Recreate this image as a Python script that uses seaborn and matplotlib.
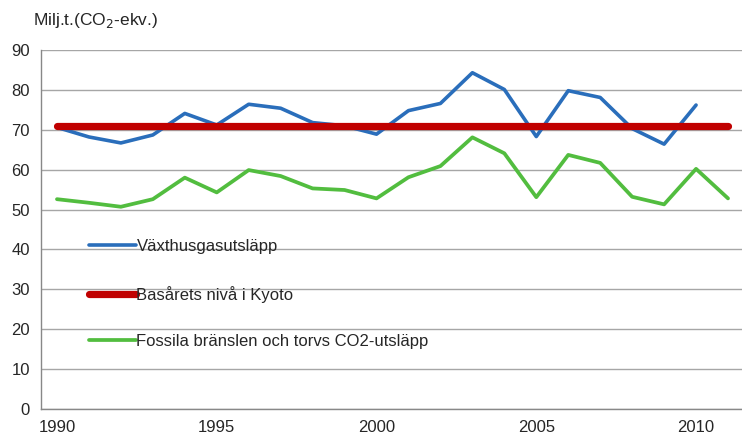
import numpy as np
import pandas as pd
import seaborn as sns
from matplotlib import pyplot as plt

# Data
years = list(range(1990, 2012))
vaxthus = [70.6, 68.2, 66.7, 68.7, 74.1, 71.2, 76.4, 75.4, 71.8, 71.0, 68.9,
           74.8, 76.6, 84.3, 80.1, 68.3, 79.8, 78.1, 70.3, 66.4, 76.2, np.nan]
kyoto = [71.0] * 22
fossila = [52.6, 51.7, 50.7, 52.6, 58.0, 54.3, 59.9, 58.4, 55.3, 54.9, 52.8,
           58.1, 60.9, 68.1, 64.1, 53.1, 63.7, 61.7, 53.2, 51.3, 60.2, 52.8]
series_names = ["Växthusgasutsläpp", "Basårets nivå i Kyoto",
                "Fossila bränslen och torvs CO2-utsläpp"]
y_ticks = list(range(0, 100, 10))
x_labels = [1990, 1995, 2000, 2005, 2010]

df = pd.DataFrame({
    "Year": years * 3,
    "Value": vaxthus + kyoto + fossila,
    "Serie": [series_names[0]] * 22 + [series_names[1]] * 22 + [series_names[2]] * 22,
})

sns.set_style("white")
plt.rcParams['font.family'] = ['Liberation Sans', 'DejaVu Sans']

fig = plt.figure(figsize=(7.42, 4.37), dpi=100)
W, H = 742, 437
ax = fig.add_axes([41 / W, 1 - 409 / H, (744 - 41) / W, (409 - 50) / H])

palette = {series_names[0]: "#2A6EBB", series_names[1]: "#C00000", series_names[2]: "#52BD3F"}
widths = {series_names[0]: 2.6, series_names[1]: 5.2, series_names[2]: 2.7}

# green first, then blue, red on top
for name in [series_names[2], series_names[0], series_names[1]]:
    sub = df[df["Serie"] == name]
    sns.lineplot(data=sub, x="Year", y="Value", color=palette[name], lw=widths[name],
                 ax=ax, label=name, solid_capstyle="round", zorder=3)

ax.set_xlim(1989.5, 2011.5)
ax.set_ylim(0, 90)
ax.set_yticks(y_ticks)
ax.set_xticks(x_labels)
ax.set_xticks(np.arange(1989.5, 2012, 1), minor=True)
ax.tick_params(axis="x", which="major", length=0, labelsize=12, pad=8)
ax.tick_params(axis="x", which="minor", length=5, color="#888888", direction="out")
ax.tick_params(axis="y", length=5, color="#888888", direction="out", labelsize=12, pad=3)
ax.grid(axis="y", color="#A6A6A6", lw=1)
ax.set_axisbelow(True)
for s in ["top", "right"]:
    ax.spines[s].set_visible(False)
for s in ["left", "bottom"]:
    ax.spines[s].set_color("#888888")
    ax.spines[s].set_linewidth(1)
ax.set_xlabel("")
ax.set_ylabel("")

handles, labels = ax.get_legend_handles_labels()
order = [labels.index(n) for n in series_names]
ax.legend([handles[i] for i in order], [labels[i] for i in order],
          loc="upper left", bbox_to_anchor=(89 / W, 1 - 239 / H), bbox_transform=fig.transFigure,
          frameon=False, fontsize=12, handlelength=2.8, handletextpad=0.05,
          labelspacing=1.9, borderpad=0, borderaxespad=0)

fig.text(33 / W, 1 - 20 / H, "Milj.t.(CO$_2$-ekv.)", fontsize=12.5, va="center", ha="left")

fig.savefig("out.png", dpi=100)
